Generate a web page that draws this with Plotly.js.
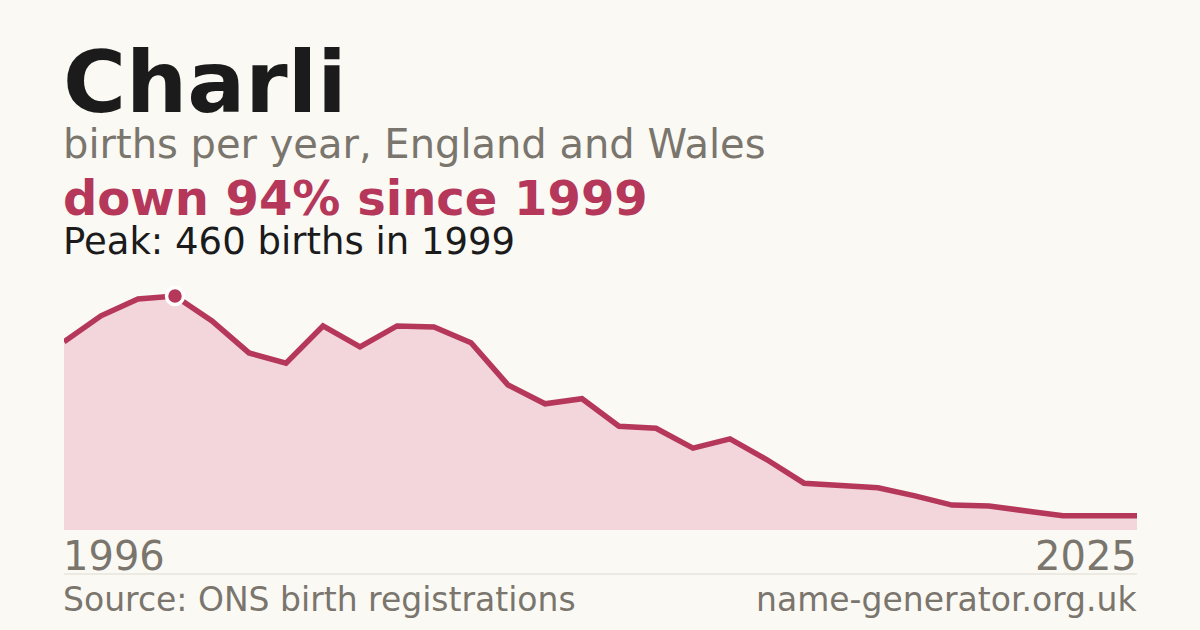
<!DOCTYPE html>
<html>
<head>
<meta charset="utf-8">
<script src="https://cdn.plot.ly/plotly-3.0.1.min.js"></script>
<style>
  html, body { margin: 0; padding: 0; background: #FAF9F4; }
  #chart { width: 1200px; height: 630px; }
</style>
</head>
<body>
<div id="chart"></div>
<script>
// Charli - births per year, England and Wales (ONS)
const years = [1996, 1997, 1998, 1999, 2000, 2001, 2002, 2003, 2004, 2005,
               2006, 2007, 2008, 2009, 2010, 2011, 2012, 2013, 2014, 2015,
               2016, 2017, 2018, 2019, 2020, 2021, 2022, 2023, 2024, 2025];
const births = [370, 421, 454, 460, 411, 348, 328, 401, 360, 401,
                399, 368, 285, 248, 258, 204, 200, 161, 179, 138,
                92, 88, 83, 67, 49, 47, 37, 28, 28, 28];
const peakYear = [1999];
const peakValue = [460];
const axisLabels = ['1996', '2025'];

const RED = '#B5375A';
const FILL = '#F2D6DC';
const GREY = '#7A756D';
const INK = '#1B1B1B';
const BG = '#FAF9F4';
const FONT = 'DejaVu Sans, Verdana, sans-serif';

// plot area runs from y=270 to y=530 px (260 px tall); convert a pixel row to paper y
const PLOT_TOP = 270, PLOT_BOT = 530;
const py = y => (PLOT_BOT - y) / (PLOT_BOT - PLOT_TOP);

function textNote(text, x, xanchor, yPx, size, color, bold) {
  return {
    text: bold ? `<b>${text}</b>` : text,
    xref: 'paper', yref: 'paper', x, y: py(yPx),
    xanchor, yanchor: 'middle', showarrow: false,
    xshift: xanchor === 'left' ? -3 : 2,
    font: { family: FONT, size, color },
  };
}

Plotly.newPlot('chart', [
  {
    x: years, y: births, type: 'scatter', mode: 'lines',
    fill: 'tozeroy', fillcolor: FILL,
    line: { color: RED, width: 5.5 },
    hoverinfo: 'skip',
  },
  {
    x: peakYear, y: peakValue, type: 'scatter', mode: 'markers',
    marker: { color: RED, size: 17, line: { color: '#FFFFFF', width: 3.5 } },
    cliponaxis: false, hoverinfo: 'skip',
  },
], {
  width: 1200, height: 630,
  paper_bgcolor: BG, plot_bgcolor: BG,
  showlegend: false,
  margin: { l: 64, r: 63, t: PLOT_TOP, b: 630 - PLOT_BOT },
  xaxis: { range: [years[0], years[years.length - 1]], visible: false, fixedrange: true },
  yaxis: { range: [0, 511], visible: false, fixedrange: true },
  annotations: [
    textNote('Charli', 0, 'left', 82, 86, INK, true),
    textNote('births per year, England and Wales', 0, 'left', 144, 40, GREY, false),
    textNote('down 94% since 1999', 0, 'left', 198, 48, RED, true),
    textNote('Peak: 460 births in 1999', 0, 'left', 241, 37, INK, false),
    textNote(axisLabels[0], 0, 'left', 556, 40, GREY, false),
    textNote(axisLabels[1], 1, 'right', 556, 40, GREY, false),
    textNote('Source: ONS birth registrations', 0, 'left', 599, 33, GREY, false),
    textNote('name-generator.org.uk', 1, 'right', 599, 33, GREY, false),
  ],
  shapes: [
    { type: 'line', xref: 'paper', yref: 'paper', x0: 0, x1: 1, y0: py(574), y1: py(574),
      line: { color: '#DDDAD2', width: 1 } },
  ],
}, { displayModeBar: false, staticPlot: true });
</script>
</body>
</html>
